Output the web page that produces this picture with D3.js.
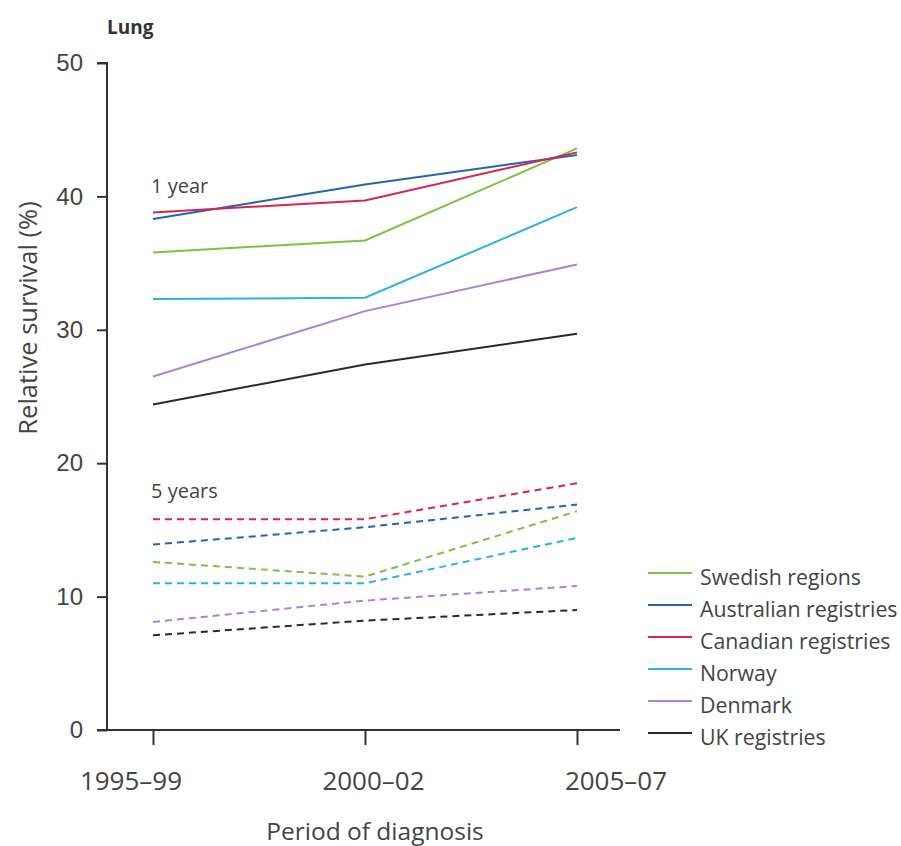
<!DOCTYPE html>
<html>
<head>
<meta charset="utf-8">
<script src="https://cdn.jsdelivr.net/npm/d3@7"></script>
<style>
  html, body { margin: 0; padding: 0; background: #fff; }
  svg { display: block; font-family: "Open Sans", Lato, sans-serif; }
</style>
</head>
<body>
<div id="chart"></div>
<script>
// Lung cancer relative survival by period of diagnosis
const periods = ['1995–99', '2000–02', '2005–07'];
const countries = ['Swedish regions', 'Australian registries', 'Canadian registries', 'Norway', 'Denmark', 'UK registries'];
const countryColors = ['#7cc243', '#2464b4', '#d8244f', '#26b4e0', '#a884d6', '#2a2a2a'];

// 1-year relative survival (%)
const oneYear = [
  [35.8, 36.7, 43.6],
  [38.3, 40.9, 43.1],
  [38.8, 39.7, 43.3],
  [32.3, 32.4, 39.2],
  [26.5, 31.4, 34.9],
  [24.4, 27.4, 29.7],
];

// 5-year relative survival (%)
const fiveYear = [
  [12.6, 11.5, 16.4],
  [13.9, 15.2, 16.9],
  [15.8, 15.8, 18.5],
  [11.0, 11.0, 14.4],
  [8.1, 9.7, 10.8],
  [7.1, 8.2, 9.0],
];

const yTicks = [0, 10, 20, 30, 40, 50];

const width = 901;
const height = 846;
const textColor = '#444';
const axisColor = '#333';

const svg = d3.select('#chart')
  .append('svg')
  .attr('width', width)
  .attr('height', height);

// plot frame: y axis at x=107, 0 at y=730, 50 at y=63
const x = d3.scalePoint().domain(periods).range([153, 577]);
const y = d3.scaleLinear().domain([0, 50]).range([730, 63]);
// period labels in the source sit wider apart than the tick marks
const xLabel = d3.scalePoint().domain(periods).range([131, 616]);

/* Y axis */
const yAxis = svg.append('g')
  .attr('transform', 'translate(107,0)')
  .call(d3.axisLeft(y).tickValues(yTicks).tickSize(10).tickPadding(14).tickFormat(d3.format('d')));
yAxis.select('.domain').attr('d', `M-10,${y(50)}H0V${y(0)}`).attr('stroke', axisColor).attr('stroke-width', 2);
yAxis.selectAll('line').attr('stroke', axisColor).attr('stroke-width', 2);
yAxis.selectAll('text').attr('fill', textColor).attr('font-size', 24);

/* X axis */
const xAxis = svg.append('g')
  .attr('transform', `translate(0,${y(0)})`)
  .call(d3.axisBottom(x).tickSize(15).tickFormat(''));
xAxis.select('.domain').attr('d', 'M97,0H620').attr('stroke', axisColor).attr('stroke-width', 2);
xAxis.selectAll('line').attr('stroke', axisColor).attr('stroke-width', 2);

svg.append('g')
  .selectAll('text')
  .data(periods)
  .join('text')
  .attr('x', (d) => xLabel(d))
  .attr('y', 790)
  .attr('text-anchor', 'middle')
  .attr('fill', textColor)
  .attr('font-size', 26)
  .text((d) => d);

/* Axis titles */
svg.append('text')
  .attr('x', 375)
  .attr('y', 840)
  .attr('text-anchor', 'middle')
  .attr('fill', textColor)
  .attr('font-size', 24.5)
  .text('Period of diagnosis');

svg.append('text')
  .attr('transform', 'translate(37,318) rotate(-90)')
  .attr('text-anchor', 'middle')
  .attr('fill', textColor)
  .attr('font-size', 25.5)
  .text('Relative survival (%)');

svg.append('text')
  .attr('x', 107)
  .attr('y', 34)
  .attr('fill', '#333')
  .attr('font-size', 19)
  .attr('font-weight', 700)
  .text('Lung');

/* Group labels */
svg.append('text').attr('x', 151).attr('y', 193).attr('fill', textColor).attr('font-size', 20).text('1 year');
svg.append('text').attr('x', 151).attr('y', 498).attr('fill', textColor).attr('font-size', 20).text('5 years');

/* Lines */
const line = d3.line()
  .x((d, i) => x(periods[i]))
  .y((d) => y(d));

const lineG = svg.append('g');
fiveYear.forEach((values, i) => {
  lineG.append('path')
    .attr('d', line(values))
    .attr('fill', 'none')
    .attr('stroke', countryColors[i])
    .attr('stroke-width', 2)
    .attr('stroke-dasharray', '7,5');
});
oneYear.forEach((values, i) => {
  lineG.append('path')
    .attr('d', line(values))
    .attr('fill', 'none')
    .attr('stroke', countryColors[i])
    .attr('stroke-width', 2);
});

/* Legend */
const legend = svg.append('g').attr('transform', 'translate(648,573)');
legend.selectAll('g.item')
  .data(countries)
  .join('g')
  .attr('class', 'item')
  .attr('transform', (d, i) => `translate(0,${i * 32})`)
  .each(function (d, i) {
    const g = d3.select(this);
    g.append('line')
      .attr('x1', 0).attr('x2', 44)
      .attr('y1', 0).attr('y2', 0)
      .attr('stroke', countryColors[i])
      .attr('stroke-width', 2);
    g.append('text')
      .attr('x', 52)
      .attr('y', 12)
      .attr('fill', textColor)
      .attr('font-size', 21.3)
      .text(d);
  });
</script>
</body>
</html>
